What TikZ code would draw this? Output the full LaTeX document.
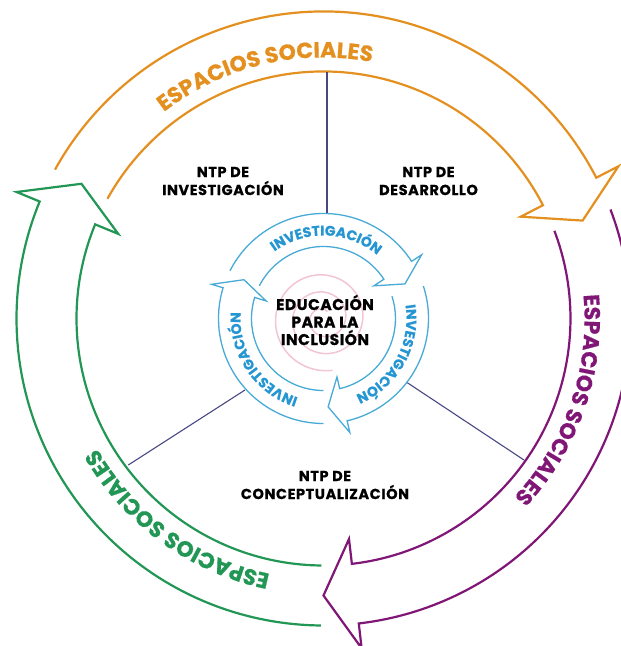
\documentclass[tikz,border=0pt]{standalone}
\usepackage{fontspec}
\setmainfont{Poppins}
\usetikzlibrary{decorations.text}

\definecolor{ringorange}{RGB}{228,144,32}
\definecolor{ringgreen}{RGB}{34,150,84}
\definecolor{ringpurple}{RGB}{128,22,118}
\definecolor{cycleblue}{RGB}{72,170,214}
\definecolor{cycletext}{RGB}{38,150,210}
\definecolor{spiralpink}{RGB}{242,196,214}
\definecolor{divider}{RGB}{72,72,132}

\newcommand{\heavy}{\bfseries\addfontfeature{FakeBold=0.6}}

\tikzset{
  bigband/.style={line width=2.2, line join=miter},
  smallband/.style={line width=1.3, cycleblue, line join=miter},
  dividerline/.style={line width=1.1, divider},
  ntp/.style={align=center, inner sep=0pt,
    font=\heavy\addfontfeature{LetterSpace=4}\fontsize{14.5}{18}\selectfont},
}

% Curved band ending in an arrow head:
% #1 style, #2 tail angle, #3 head base angle, #4 tip angle,
% #5 inner radius, #6 outer radius, #7 barb length
\newcommand{\bandarrow}[7]{%
  \draw[#1] ({#2}:{#6}) arc[start angle={#2}, end angle={#3}, radius={#6}]
    -- ({#3}:{#6+#7}) -- ({#4}:{(#5+#6)/2}) -- ({#3}:{#5-#7}) -- ({#3}:{#5})
    arc[start angle={#3}, end angle={#2}, radius={#5}];}

% Text set clockwise along a circle, centred on an angle:
% #1 format, #2 centre angle, #3 baseline radius, #4 text
\newcommand{\arctext}[4]{%
  \path[decorate, decoration={text along path, text align=center,
      text={|#1|#4}}]
    ({#2+70}:{#3}) arc[start angle={#2+70}, end angle={#2-70}, radius={#3}];}

\begin{document}
\begin{tikzpicture}[x=1pt, y=1pt]
\useasboundingbox (-323.5,-327.5) rectangle (297.5,318.5);

% faint spiral behind the centre
\draw[spiralpink, line width=1.5]
  plot[domain=60:1000, samples=300, smooth, variable=\t] (\t:{5+\t/21});

% outer ring of three arrows
\bandarrow{bigband, ringorange}{151}{27.3}{20.7}{247}{307}{25}
\bandarrow{bigband, ringpurple}{20.8}{-83.4}{-90}{247}{307}{25}
\bandarrow{bigband, ringgreen}{269.5}{157.6}{150.9}{247}{307}{25}

\arctext{\heavy\fontsize{22}{22}\selectfont\color{ringorange}}{103.5}{261}{ESPACIOS SOCIALES}
\arctext{\heavy\fontsize{22}{22}\selectfont\color{ringpurple}}{-19}{261}{ESPACIOS SOCIALES}
\arctext{\heavy\fontsize{22}{22}\selectfont\color{ringgreen}}{234}{261}{ESPACIOS SOCIALES}

% inner cycle of three arrows
\bandarrow{smallband}{153}{33}{23}{72}{105}{12}
\bandarrow{smallband}{18}{-77}{-87}{72}{105}{12}
\bandarrow{smallband}{270}{163}{154}{72}{105}{12}

\arctext{\heavy\fontsize{14}{14}\selectfont\color{cycletext}}{88}{83}{INVESTIGACIÓN}
\arctext{\heavy\fontsize{14}{14}\selectfont\color{cycletext}}{-29}{83}{INVESTIGACIÓN}
\arctext{\heavy\fontsize{14}{14}\selectfont\color{cycletext}}{214}{83}{INVESTIGACIÓN}

% sector dividers
\coordinate (topin) at (3.5,105.5);
\coordinate (topout) at (3.5,246.5);
\coordinate (leftin) at (-78.5,-71.5);
\coordinate (leftout) at (-195.2,-146.5);
\coordinate (rightin) at (83.8,-64.2);
\coordinate (rightout) at (200.5,-141.5);
\draw[dividerline] (topin) -- (topout);
\draw[dividerline] (leftin) -- (leftout);
\draw[dividerline] (rightin) -- (rightout);

% labels
\node[ntp, font=\heavy\addfontfeature{LetterSpace=3}\fontsize{15.5}{17.5}\selectfont] (centre) at (1.5,-1.5) {EDUCACIÓN\\PARA LA\\INCLUSIÓN};
\node[ntp] (invest) at (-100.5,137.5) {NTP DE\\INVESTIGACIÓN};
\node[ntp] (desarr) at (105,137.5) {NTP DE\\DESARROLLO};
\node[ntp] (concep) at (1.5,-166.5) {NTP DE\\CONCEPTUALIZACIÓN};
\end{tikzpicture}
\end{document}
